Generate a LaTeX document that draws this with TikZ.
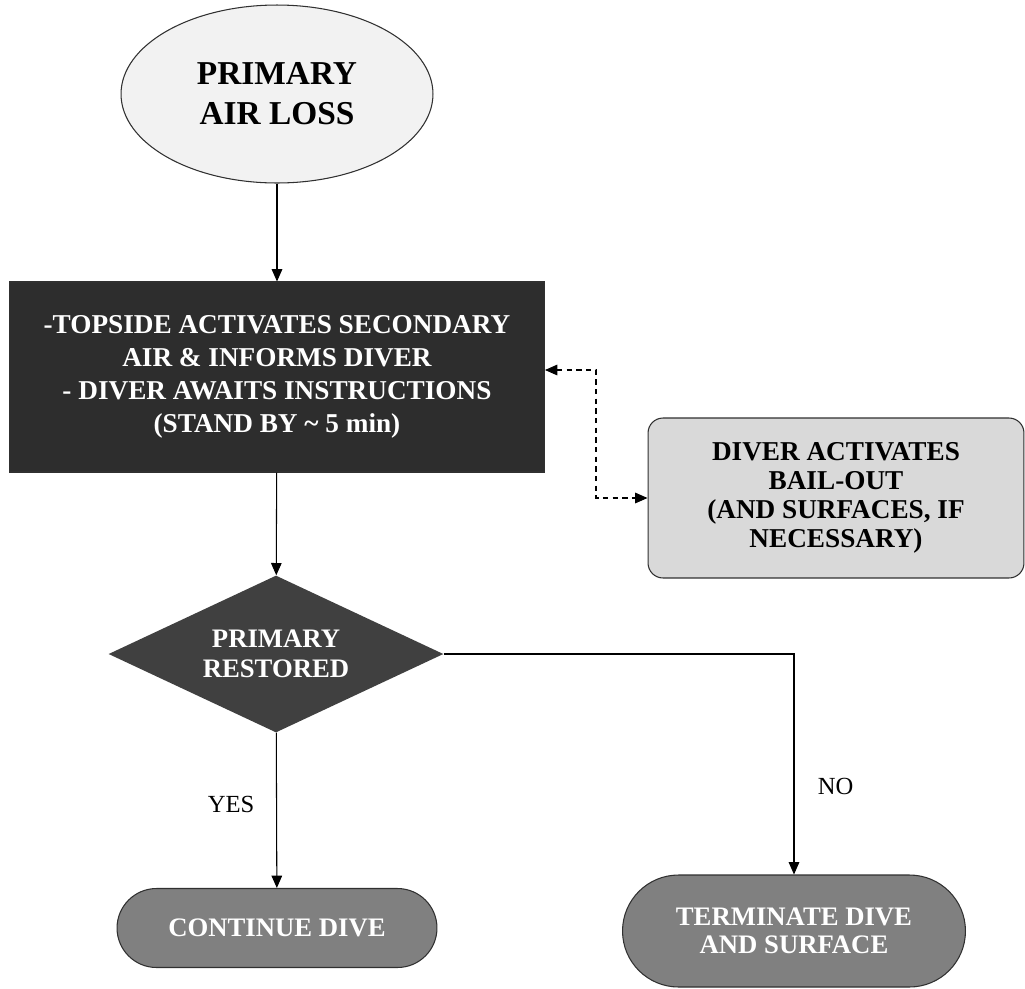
\documentclass[tikz,border=0pt]{standalone}
\usepackage{fontspec}
\setmainfont{Liberation Serif}
\usepackage{tikz}
\usetikzlibrary{arrows.meta}
\usetikzlibrary{positioning}
\usetikzlibrary{shapes.geometric}
\definecolor{mpale}{HTML}{F2F2F2}
\definecolor{mdark}{HTML}{2D2D2D}
\definecolor{mdiam}{HTML}{404040}
\definecolor{mmid}{HTML}{808080}
\definecolor{mlight}{HTML}{D9D9D9}
\definecolor{medge}{HTML}{303030}
\tikzset{flow/.style = {-{Triangle[width = 6pt, length = 7pt]}, line width = 0.6pt}}
\tikzset{dflow/.style = {{Triangle[width = 6pt, length = 7pt]}-{Triangle[width = 6pt, length = 7pt]},
                         line width = 0.6pt, dash pattern = on 3pt off 2.5pt}}
\tikzset{startnode/.style = {ellipse, draw = medge, fill = mpale, line width = 0.6pt,
                             minimum width = 6.24cm, minimum height = 3.56cm, align = center,
                             font = \fontsize{19}{22.7}\selectfont\bfseries}}
\tikzset{actbox/.style = {rectangle, draw = medge, fill = mdark, text = white, line width = 0.6pt,
                          minimum width = 10.7cm, minimum height = 3.8cm, align = center,
                          font = \fontsize{15.5}{18.7}\selectfont\bfseries}}
\tikzset{sidebox/.style = {rectangle, rounded corners = 0.3cm, draw = medge, fill = mlight,
                           line width = 0.6pt, minimum width = 7.52cm, minimum height = 3.2cm,
                           align = center, font = \fontsize{15.5}{16.4}\selectfont\bfseries}}
\tikzset{decide/.style = {diamond, aspect = 2.13, fill = mdiam, text = white, inner sep = 0,
                          minimum width = 6.7cm, minimum height = 3.14cm, align = center,
                          font = \fontsize{15.2}{17}\selectfont\bfseries}}
\tikzset{endnode/.style = {rectangle, draw = medge, fill = mmid, text = white, line width = 0.6pt,
                           align = center, font = \fontsize{15.2}{16}\selectfont\bfseries}}
\tikzset{lbl/.style = {font = \fontsize{14}{16}\selectfont}}

\begin{document}
\begin{tikzpicture}[x = 0.02cm, y = -0.02cm]
    \useasboundingbox (0, 0) rectangle (1025, 988);

    \node [startnode] (loss) at (277, 94) {PRIMARY\\AIR LOSS};
    \node [actbox] (topside) at (277, 377)
        {-TOPSIDE ACTIVATES SECONDARY\\AIR \& INFORMS DIVER\\- DIVER AWAITS INSTRUCTIONS\\(STAND BY \textasciitilde\ 5 min)};
    \node [sidebox] (bailout) at (836, 498)
        {DIVER ACTIVATES\\BAIL-OUT\\(AND SURFACES, IF\\NECESSARY)};
    \node [decide] (restored) at (276, 654) {PRIMARY\\RESTORED};
    \node [endnode, minimum width = 6.4cm, minimum height = 1.58cm, rounded corners = 0.79cm]
        (cont) at (277, 928) {CONTINUE DIVE};
    \node [endnode, minimum width = 6.86cm, minimum height = 2.24cm, rounded corners = 1.12cm]
        (term) at (794, 931) {TERMINATE DIVE\\AND SURFACE};

    \draw [flow] (loss) -- (topside);
    \draw [flow] (topside) -- (restored);
    \draw [dflow] ([yshift = 0.14cm]topside.east) -- ++(51, 0) |- (bailout.west);
    \draw [flow] (restored) -- node [lbl, pos = 0.46, left = 9pt] {YES} (cont);
    \draw [flow] (restored.east) -| node [lbl, pos = 0.8, right = 10pt] {NO} (term);
  \end{tikzpicture}
\end{document}
